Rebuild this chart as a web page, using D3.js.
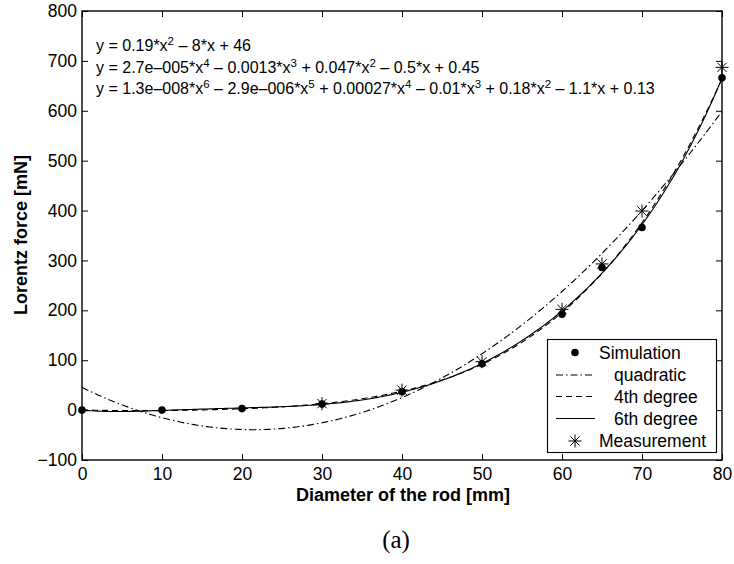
<!DOCTYPE html>
<html>
<head>
<meta charset="utf-8">
<script src="https://cdn.jsdelivr.net/npm/d3@7"></script>
<style>
  html, body { margin: 0; padding: 0; background: #fff; }
  svg { display: block; font-family: "Liberation Sans", Arial, Helvetica, sans-serif; }
</style>
</head>
<body>
<svg id="chart" width="734" height="564"></svg>
<script>
// Rod diameters [mm] and computed / measured Lorentz force [mN]
const simDiameter = [0, 10, 20, 30, 40, 50, 60, 65, 70, 80];
const simForce    = [0, 0, 3, 12, 37, 93, 192, 286, 366, 666];
const measDiameter = [30, 40, 50, 60, 65, 70, 80];
const measForce    = [13, 40, 97, 202, 293, 399, 687];

const xTicks = [0, 10, 20, 30, 40, 50, 60, 70, 80];
const yTicks = [-100, 0, 100, 200, 300, 400, 500, 600, 700, 800];

// Fitted-polynomial equations as printed in the plot
const equationLines = [
  [["y = 0.19*x", ""], ["2", "sup"], [" – 8*x + 46", ""]],
  [["y = 2.7e–005*x", ""], ["4", "sup"], [" – 0.0013*x", ""], ["3", "sup"], [" + 0.047*x", ""], ["2", "sup"], [" – 0.5*x + 0.45", ""]],
  [["y = 1.3e–008*x", ""], ["6", "sup"], [" – 2.9e–006*x", ""], ["5", "sup"], [" + 0.00027*x", ""], ["4", "sup"], [" – 0.01*x", ""], ["3", "sup"], [" + 0.18*x", ""], ["2", "sup"], [" – 1.1*x + 0.13", ""]]
];

const fitDegrees = [2, 4, 6];
const fitLabels  = ["quadratic", "4th degree", "6th degree"];

// Least-squares polynomial fit (x scaled to [0,1] for conditioning)
function polyfit(xs, ys, deg, scale) {
  const n = deg + 1;
  const M = Array.from({length: n}, () => new Array(n + 1).fill(0));
  xs.forEach((xv, k) => {
    const t = xv / scale;
    const pw = [];
    for (let i = 0; i < 2 * n; i++) pw.push(Math.pow(t, i));
    for (let i = 0; i < n; i++) {
      for (let j = 0; j < n; j++) M[i][j] += pw[i + j];
      M[i][n] += pw[i] * ys[k];
    }
  });
  for (let c = 0; c < n; c++) {
    let p = c;
    for (let r = c + 1; r < n; r++) if (Math.abs(M[r][c]) > Math.abs(M[p][c])) p = r;
    [M[c], M[p]] = [M[p], M[c]];
    for (let r = 0; r < n; r++) {
      if (r === c) continue;
      const f = M[r][c] / M[c][c];
      for (let j = c; j <= n; j++) M[r][j] -= f * M[c][j];
    }
  }
  const coef = M.map((row, i) => row[n] / row[i]);
  return xv => coef.reduce((s, a, i) => s + a * Math.pow(xv / scale, i), 0);
}

const svg = d3.select("#chart");
const plotL = 82, plotR = 722, plotT = 11, plotB = 460;

const x = d3.scaleLinear().domain([0, 80]).range([plotL, plotR]);
const y = d3.scaleLinear().domain([-100, 800]).range([plotB, plotT]);

svg.append("defs").append("clipPath").attr("id", "plotClip")
  .append("rect").attr("x", plotL).attr("y", plotT).attr("width", plotR - plotL).attr("height", plotB - plotT);

// Axes with inward ticks on all four sides
const tickLen = 6;
const axisFont = "17.5px";
function styleAxis(g) {
  g.select(".domain").remove();
  g.selectAll("line").attr("stroke", "#000").attr("stroke-width", 1);
  g.selectAll("text").attr("fill", "#000").style("font-size", axisFont)
    .style("font-family", '"Liberation Sans", Arial, sans-serif');
}
const fmt = d => d < 0 ? "\u2212" + Math.abs(d) : String(d);

svg.append("g").attr("transform", `translate(0,${plotB})`)
  .call(d3.axisBottom(x).tickValues(xTicks).tickFormat(fmt).tickSizeInner(-tickLen).tickSizeOuter(0).tickPadding(8))
  .call(styleAxis);
svg.append("g").attr("transform", `translate(0,${plotT})`)
  .call(d3.axisTop(x).tickValues(xTicks).tickFormat("").tickSizeInner(-tickLen).tickSizeOuter(0))
  .call(styleAxis);
svg.append("g").attr("transform", `translate(${plotL},0)`)
  .call(d3.axisLeft(y).tickValues(yTicks).tickFormat(fmt).tickSizeInner(-tickLen).tickSizeOuter(0).tickPadding(5))
  .call(styleAxis);
svg.append("g").attr("transform", `translate(${plotR},0)`)
  .call(d3.axisRight(y).tickValues(yTicks).tickFormat("").tickSizeInner(-tickLen).tickSizeOuter(0))
  .call(styleAxis);

// Plot frame
svg.append("rect").attr("x", plotL).attr("y", plotT).attr("width", plotR - plotL).attr("height", plotB - plotT)
  .attr("fill", "none").attr("stroke", "#000").attr("stroke-width", 1.4);

// Fitted curves
const dashes = ["7,3,1.5,3", "6,4", null];
const curveX = d3.range(0, 80.001, 0.4);
const plot = svg.append("g").attr("clip-path", "url(#plotClip)");
fitDegrees.forEach((deg, i) => {
  const f = polyfit(simDiameter, simForce, deg, 80);
  plot.append("path")
    .datum(curveX)
    .attr("d", d3.line().x(d => x(d)).y(d => y(f(d))))
    .attr("fill", "none").attr("stroke", "#000").attr("stroke-width", 1.1)
    .attr("stroke-dasharray", dashes[i]);
});

// Markers
function starPath(cx, cy, r) {
  const d = r * Math.SQRT1_2;
  return `M${cx - r},${cy}L${cx + r},${cy}M${cx},${cy - r}L${cx},${cy + r}` +
         `M${cx - d},${cy - d}L${cx + d},${cy + d}M${cx - d},${cy + d}L${cx + d},${cy - d}`;
}
svg.append("g").selectAll("circle").data(simDiameter).join("circle")
  .attr("cx", d => x(d)).attr("cy", (d, i) => y(simForce[i])).attr("r", 3.8).attr("fill", "#000");
svg.append("g").selectAll("path").data(measDiameter).join("path")
  .attr("d", (d, i) => starPath(x(d), y(measForce[i]), 6.5))
  .attr("stroke", "#000").attr("stroke-width", 1).attr("fill", "none");

// Equations
const eq = svg.append("g").style("font-size", "16px").attr("fill", "#000");
equationLines.forEach((parts, i) => {
  const t = eq.append("text").attr("x", 96).attr("y", 51 + i * 21.5);
  parts.forEach(([s, kind]) => {
    if (kind === "sup") {
      t.append("tspan").attr("dy", -6).style("font-size", "11.5px").text(s);
    } else {
      const ts = t.append("tspan").text(s);
      if (t.selectAll("tspan").size() > 1) ts.attr("dy", 6);
    }
  });
});

// Legend
const lg = svg.append("g");
lg.append("rect").attr("x", 547.5).attr("y", 339.5).attr("width", 169).attr("height", 113)
  .attr("fill", "#fff").attr("stroke", "#000").attr("stroke-width", 1.1);
const rowY = [352.5, 375, 396.5, 418.5, 441];
const legendFont = "17.5px";
lg.append("circle").attr("cx", 575).attr("cy", rowY[0]).attr("r", 3.8).attr("fill", "#000");
lg.append("text").attr("x", 599).attr("y", rowY[0] + 6).style("font-size", legendFont).text("Simulation");
fitLabels.forEach((lab, i) => {
  lg.append("line").attr("x1", 556).attr("x2", 595).attr("y1", rowY[i + 1]).attr("y2", rowY[i + 1])
    .attr("stroke", "#000").attr("stroke-width", 1.1).attr("stroke-dasharray", dashes[i]);
  lg.append("text").attr("x", 614).attr("y", rowY[i + 1] + 6).style("font-size", legendFont).text(lab);
});
lg.append("path").attr("d", starPath(575, rowY[4], 6.5)).attr("stroke", "#000").attr("fill", "none");
lg.append("text").attr("x", 599).attr("y", rowY[4] + 6).style("font-size", legendFont).text("Measurement");

// Axis titles
svg.append("text").attr("x", 403).attr("y", 501).attr("text-anchor", "middle")
  .style("font-size", "18px").style("font-weight", "bold").text("Diameter of the rod [mm]");
svg.append("text").attr("transform", "translate(27,235) rotate(-90)").attr("text-anchor", "middle")
  .style("font-size", "18px").style("font-weight", "bold").text("Lorentz force [mN]");

// Subfigure caption
svg.append("text").attr("x", 396).attr("y", 548).attr("text-anchor", "middle")
  .style("font-family", '"Liberation Serif", "DejaVu Serif", serif').style("font-size", "25px").text("(a)");
</script>
</body>
</html>
